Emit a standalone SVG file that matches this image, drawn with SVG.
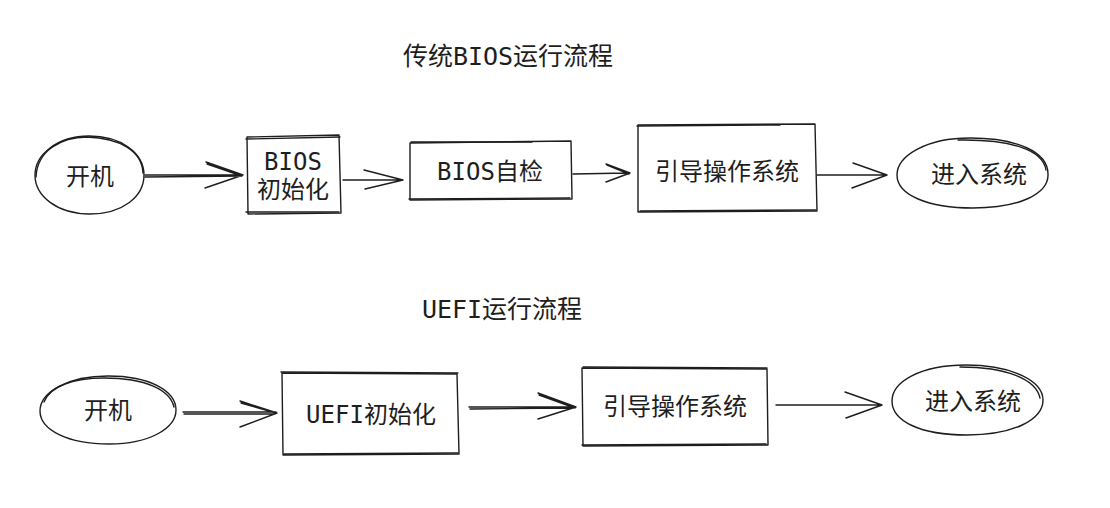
<svg xmlns="http://www.w3.org/2000/svg" width="1110" height="508" viewBox="0 0 1110 508">
<style>
.s{fill:none;stroke:#1e1e1e;stroke-width:1.4;stroke-linecap:round;stroke-linejoin:round}
.t{font-family:"DejaVu Sans Mono","Noto Sans CJK SC",monospace;font-size:24px;fill:#1e1e1e;text-anchor:middle;dominant-baseline:central}
.h{font-size:25px}
</style>
<rect width="1110" height="508" fill="#fff"/>
<text class="t h" x="508" y="56">传统BIOS运行流程</text>
<text class="t h" x="502" y="309">UEFI运行流程</text>
<g id="n1">
<path class="s" d="M144 175 C144 153 121 136 89 136 C57 136 35 155 35 175 C35 196 57 214 90 214 C122 214 144 197 144 175 Z"/>
<path class="s" d="M143 173 C142 151 120 138 87 137 C61 137 37 151 36 177"/>
<text class="t" x="90" y="177">开机</text>
</g>
<g id="n2">
<path class="s" d="M247 137 L339 135 L341 213 L248 214 Z"/>
<path class="s" d="M246 139 L340 137 M339 212 L246 212"/>
<text class="t" x="293" y="162">BIOS</text>
<text class="t" x="293" y="190">初始化</text>
</g>
<g id="n3">
<path class="s" d="M410 143 L571 141 L572 199 L410 200 Z"/>
<path class="s" d="M411 142 L532 142 M409 199 L570 198"/>
<text class="t" x="490" y="172">BIOS自检</text>
</g>
<g id="n4">
<path class="s" d="M638 125 L815 124 L817 211 L638 212 Z"/>
<path class="s" d="M637 126 L780 125 M816 210 L640 211"/>
<text class="t" x="727" y="172">引导操作系统</text>
</g>
<g id="n5">
<path class="s" d="M1048 174 C1048 152 1017 138 970 138 C926 138 897 156 897 175 C897 195 928 208 973 208 C1019 208 1049 194 1048 174 Z"/>
<path class="s" d="M1046 170 C1043 150 1011 139 958 140"/>
<text class="t" x="979" y="175">进入系统</text>
</g>
<g id="n6">
<path class="s" d="M176 410 C176 391 150 376 108 376 C68 376 40 392 40 411 C40 430 68 444 109 444 C150 444 176 428 176 410 Z"/>
<path class="s" d="M174 407 C170 390 146 378 104 378 C74 378 50 386 44 402"/>
<text class="t" x="108" y="411">开机</text>
</g>
<g id="n7">
<path class="s" d="M282 373 L457 374 L459 454 L283 455 Z"/>
<path class="s" d="M281 372 L458 373 M284 454 L458 453"/>
<text class="t" x="371" y="415">UEFI初始化</text>
</g>
<g id="n8">
<path class="s" d="M582 368 L767 369 L768 445 L583 446 Z"/>
<path class="s" d="M583 367 L767 368 M582 445 L766 444"/>
<text class="t" x="675" y="407">引导操作系统</text>
</g>
<g id="n9">
<path class="s" d="M1043 400 C1043 381 1012 365 966 365 C920 365 892 382 892 401 C892 421 920 435 967 435 C1013 435 1043 420 1043 400 Z"/>
<path class="s" d="M1040 398 C1036 379 1006 367 960 367"/>
<text class="t" x="973" y="402">进入系统</text>
</g>
<g id="edges">
<path class="s" d="M145 175 L243 175 M145 177 L242 176 M206 162 L243 175 L205 188 M207 164 L242 176"/>
<path class="s" d="M343 180 L402 180 M364 170 L403 180 L365 189"/>
<path class="s" d="M573 174 L628 173 M606 164 L630 173 L606 182 M607 165 L629 174"/>
<path class="s" d="M817 175 L886 175 M853 163 L887 175 L852 188"/>
<path class="s" d="M183 412 L276 412 M184 414 L275 414 M240 401 L277 413 L240 427 M241 403 L276 413"/>
<path class="s" d="M469 407 L574 407 M470 409 L573 408 M538 393 L576 407 L538 419 M539 395 L575 408"/>
<path class="s" d="M776 405 L881 405 M845 392 L882 405 L846 418"/>
</g>
</svg>
